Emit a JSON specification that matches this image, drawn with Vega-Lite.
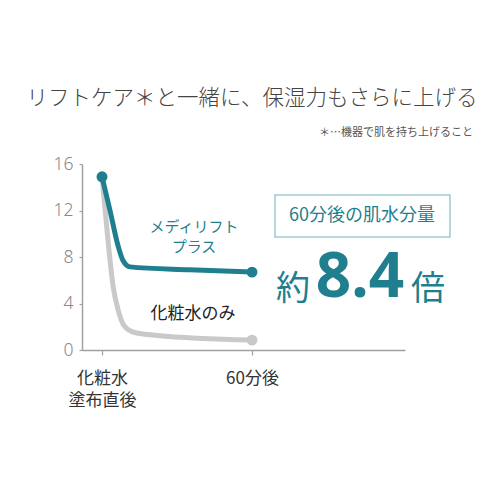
{
  "$schema": "https://vega.github.io/schema/vega-lite/v6.json",
  "width": 323,
  "height": 186,
  "autosize": "none",
  "padding": {"left": 82, "top": 164, "right": 95, "bottom": 150},
  "background": "white",
  "config": {
    "view": {"stroke": null},
    "font": "Noto Sans CJK JP"
  },
  "datasets": {
    "series": [
      {"min": 0, "moist": 14.9, "product": "メディリフトプラス"},
      {"min": 3.2, "moist": 12.0, "product": "メディリフトプラス"},
      {"min": 6.5, "moist": 8.9, "product": "メディリフトプラス"},
      {"min": 8.4, "moist": 7.7, "product": "メディリフトプラス"},
      {"min": 11.2, "moist": 7.15, "product": "メディリフトプラス"},
      {"min": 35, "moist": 6.9, "product": "メディリフトプラス"},
      {"min": 60, "moist": 6.7, "product": "メディリフトプラス"},
      {"min": 0, "moist": 14.9, "product": "化粧水のみ"},
      {"min": 2.5, "moist": 9.2, "product": "化粧水のみ"},
      {"min": 4.5, "moist": 5.4, "product": "化粧水のみ"},
      {"min": 6.5, "moist": 3.4, "product": "化粧水のみ"},
      {"min": 8.5, "moist": 2.2, "product": "化粧水のみ"},
      {"min": 12.4, "moist": 1.55, "product": "化粧水のみ"},
      {"min": 22, "moist": 1.25, "product": "化粧水のみ"},
      {"min": 60, "moist": 0.85, "product": "化粧水のみ"}
    ]
  },
  "layer": [
    {
      "data": {"name": "series"},
      "transform": [{"filter": "datum.product == '化粧水のみ'"}],
      "mark": {"type": "line", "color": "#c9c9c9", "strokeWidth": 5, "interpolate": "monotone", "strokeCap": "round"},
      "encoding": {
        "x": {
          "field": "min", "type": "quantitative",
          "scale": {"domain": [-8, 121.2], "nice": false, "zero": false},
          "axis": {
            "title": null, "grid": false, "values": [0, 60],
            "labelExpr": "datum.value == 0 ? ['化粧水', '塗布直後'] : '60分後'",
            "labelFontSize": 17, "labelColor": "#333", "labelLineHeight": 22,
            "labelPadding": 15, "labelBaseline": "top",
            "domainColor": "#a0a0a0", "domainWidth": 1.5,
            "tickColor": "#a0a0a0", "tickSize": 5, "tickWidth": 1.2
          }
        },
        "y": {
          "field": "moist", "type": "quantitative",
          "scale": {"domain": [0, 16], "nice": false},
          "axis": {
            "title": null, "grid": false, "values": [0, 4, 8, 12, 16],
            "labelFontSize": 17.5, "labelColor": "#888", "labelPadding": 6,
            "labelFont": "Noto Sans", "labelFontWeight": 300,
            "domainColor": "#a0a0a0", "domainWidth": 1.5,
            "tickColor": "#a0a0a0", "tickSize": 3, "tickWidth": 1.2
          }
        }
      }
    },
    {
      "data": {"name": "series"},
      "transform": [{"filter": "datum.product == '化粧水のみ' && (datum.min == 60)"}],
      "mark": {"type": "point", "filled": true, "color": "#c9c9c9", "size": 120, "opacity": 1},
      "encoding": {
        "x": {"field": "min", "type": "quantitative"},
        "y": {"field": "moist", "type": "quantitative"}
      }
    },
    {
      "data": {"name": "series"},
      "transform": [{"filter": "datum.product == 'メディリフトプラス'"}],
      "mark": {"type": "line", "color": "#1f7f8e", "strokeWidth": 5, "interpolate": "monotone", "strokeCap": "round"},
      "encoding": {
        "x": {"field": "min", "type": "quantitative"},
        "y": {"field": "moist", "type": "quantitative"}
      }
    },
    {
      "data": {"name": "series"},
      "transform": [{"filter": "datum.product == 'メディリフトプラス' && (datum.min == 0 || datum.min == 60)"}],
      "mark": {"type": "point", "filled": true, "color": "#1f7f8e", "size": 120, "opacity": 1},
      "encoding": {
        "x": {"field": "min", "type": "quantitative"},
        "y": {"field": "moist", "type": "quantitative"}
      }
    },
    {
      "data": {"values": [{"t": ["メディリフト", "プラス"], "x": 36.8, "y": 10.55}]},
      "mark": {"type": "text", "color": "#1f7f8e", "fontSize": 15, "lineHeight": 20, "align": "center", "baseline": "middle"},
      "encoding": {
        "x": {"field": "x", "type": "quantitative"},
        "y": {"field": "y", "type": "quantitative"},
        "text": {"field": "t"}
      }
    },
    {
      "data": {"values": [{"t": "化粧水のみ", "x": 36.4, "y": 3.1}]},
      "mark": {"type": "text", "color": "#222", "fontSize": 17, "align": "center", "baseline": "middle"},
      "encoding": {
        "x": {"field": "x", "type": "quantitative"},
        "y": {"field": "y", "type": "quantitative"},
        "text": {"field": "t"}
      }
    },
    {
      "data": {"values": [{"x": 69.2, "x2": 139.2, "y": 13.33, "y2": 9.72}]},
      "mark": {"type": "rect", "fill": "white", "stroke": "#9ccbd2", "strokeWidth": 1.5},
      "encoding": {
        "x": {"field": "x", "type": "quantitative"},
        "x2": {"field": "x2"},
        "y": {"field": "y", "type": "quantitative"},
        "y2": {"field": "y2"}
      }
    },
    {
      "data": {"values": [{"t": "60分後の肌水分量", "x": 104, "y": 11.52}]},
      "mark": {"type": "text", "color": "#1f7f8e", "fontSize": 18, "align": "center", "baseline": "middle"},
      "encoding": {
        "x": {"field": "x", "type": "quantitative"},
        "y": {"field": "y", "type": "quantitative"},
        "text": {"field": "t"}
      }
    },
    {
      "data": {"values": [{"t": "約", "x": 69.6, "y": 4.3}, {"t": "倍", "x": 123.6, "y": 4.3}]},
      "mark": {"type": "text", "color": "#1f7f8e", "fontSize": 34, "align": "left", "baseline": "alphabetic"},
      "encoding": {
        "x": {"field": "x", "type": "quantitative"},
        "y": {"field": "y", "type": "quantitative"},
        "text": {"field": "t"}
      }
    },
    {
      "data": {"values": [{"t": "8.4", "x": 103.2, "y": 4.56}]},
      "mark": {"type": "text", "color": "#1f7f8e", "fontSize": 62, "fontWeight": "bold", "font": "Noto Sans", "align": "center", "baseline": "alphabetic"},
      "encoding": {
        "x": {"field": "x", "type": "quantitative"},
        "y": {"field": "y", "type": "quantitative"},
        "text": {"field": "t"}
      }
    },
    {
      "data": {"values": [{"t": "リフトケア＊と一緒に、保湿力もさらに上げる", "x": 60, "y": 21.6}]},
      "mark": {"type": "text", "color": "#444", "fontSize": 21.5, "fontWeight": 300, "align": "center", "baseline": "middle"},
      "encoding": {
        "x": {"field": "x", "type": "quantitative"},
        "y": {"field": "y", "type": "quantitative"},
        "text": {"field": "t"}
      }
    },
    {
      "data": {"values": [{"t": "＊…機器で肌を持ち上げること", "x": 148.4, "y": 18.7}]},
      "mark": {"type": "text", "color": "#555", "fontSize": 11, "align": "right", "baseline": "middle"},
      "encoding": {
        "x": {"field": "x", "type": "quantitative"},
        "y": {"field": "y", "type": "quantitative"},
        "text": {"field": "t"}
      }
    }
  ]
}
